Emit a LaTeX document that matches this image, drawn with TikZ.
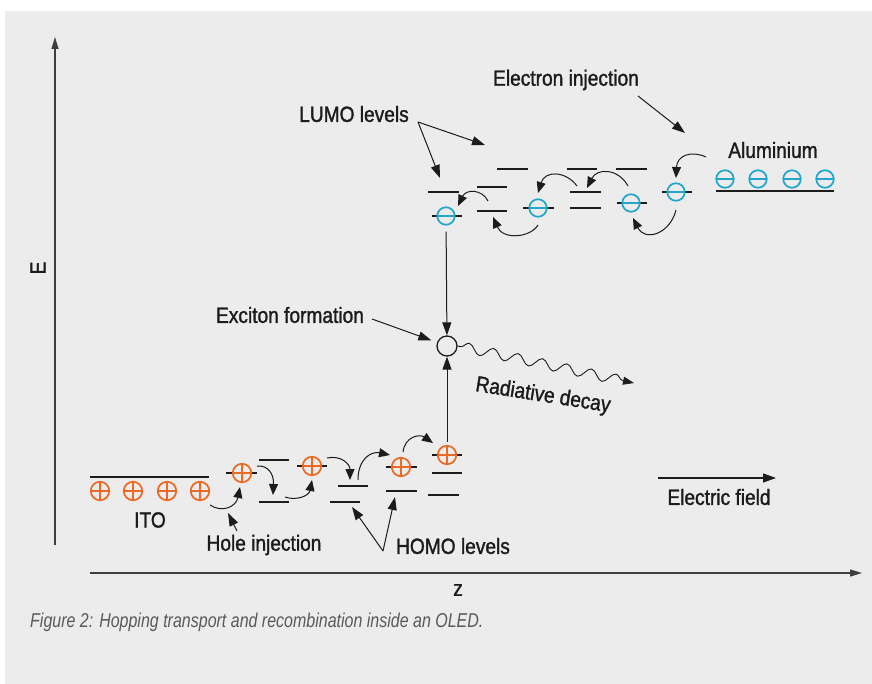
\documentclass[tikz,border=0pt]{standalone}
\usepackage{fontspec}
\setmainfont{Liberation Sans}[FakeStretch=0.87,FakeBold=1.4]
\newfontfamily\capfont{Liberation Sans}[FakeStretch=0.8]
\usetikzlibrary{arrows.meta,decorations.pathmorphing}
\definecolor{bg}{HTML}{EBECEB}
\definecolor{holec}{HTML}{EC6A24}
\definecolor{elc}{HTML}{1FA6CB}
\definecolor{ink}{HTML}{1C1C1C}
\definecolor{capc}{HTML}{5A5A5A}
\begin{document}
\begin{tikzpicture}[x=1pt,y=-1pt,
 lvl/.style={draw=ink,line width=1.8pt},
 hole/.style={circle,draw=holec,line width=1.7pt,fill=bg,minimum size=18.5pt,inner sep=0pt,
   path picture={\draw[holec,line width=1.6pt] (path picture bounding box.west)--(path picture bounding box.east) (path picture bounding box.north)--(path picture bounding box.south);}},
 elec/.style={circle,draw=elc,line width=1.7pt,fill=bg,minimum size=17.5pt,inner sep=0pt,
   path picture={\draw[elc,line width=2.4pt] (path picture bounding box.west)--(path picture bounding box.east);}},
 exciton/.style={circle,draw=ink,line width=1.3pt,minimum size=20pt,inner sep=0pt},
 hop/.style={draw=ink,line width=1pt,-{Triangle[length=11pt,width=9pt]}},
 ptr/.style={draw=ink,line width=1pt,-{Triangle[length=13pt,width=9pt]}},
 axis/.style={draw=ink!85,line width=1.2pt,-{Triangle[length=12pt,width=7pt]}},
 lab/.style={font=\fontsize{22}{25}\selectfont,text=ink,inner sep=0pt}
]
\useasboundingbox (0,0) rectangle (872,684);
\fill[white] (0,0) rectangle (872,684);
\fill[bg] (5,11) rectangle (872,684);

% axes
\coordinate (ebot) at (55,545); \coordinate (etop) at (55,37);
\coordinate (zl) at (90,573); \coordinate (zr) at (862,573);
\draw[axis] (ebot) -- (etop);
\draw[axis] (zl) -- (zr);
\node[lab,rotate=90] (elab) at (38,268) {E};
\node[lab] (zlab) at (458,590) {z};

% caption
\node[anchor=west,inner sep=0pt,text=capc,font=\capfont\itshape\fontsize{20}{23}\selectfont] (cap) at (30,622) {Figure 2: Hopping transport and recombination inside an OLED.};

% ---------- LUMO side ----------
\draw[lvl] (428,192) -- (459,192);
\draw[lvl] (432,216) -- (462,216);
\node[elec] (e1) at (446,216) {};
\draw[lvl] (477,187) -- (507,187);
\draw[lvl] (477,211) -- (507,211);
\draw[lvl] (497,169) -- (528,169);
\draw[lvl] (523,208) -- (554,208);
\node[elec] (e2) at (538,208) {};
\draw[lvl] (567,169) -- (597,169);
\draw[lvl] (570,192) -- (601,192);
\draw[lvl] (570,208) -- (601,208);
\draw[lvl] (616,169) -- (647,169);
\draw[lvl] (617,203) -- (647,203);
\node[elec] (e3) at (631,203) {};
\draw[lvl] (662,192) -- (692,192);
\node[elec] (e4) at (676,192) {};
% aluminium
\draw[lvl] (716,191) -- (834,191);
\node[elec] (a1) at (725,179) {};
\node[elec] (a2) at (758,179) {};
\node[elec] (a3) at (792,179) {};
\node[elec] (a4) at (825,179) {};
\node[lab] (alu) at (773,150) {Aluminium};

% LUMO hops
\coordinate (c1s) at (488,201); \coordinate (c1e) at (458,206);
\draw[hop] (c1s) .. controls (482,189) and (466,189) .. (c1e);
\coordinate (c2s) at (538,225); \coordinate (c2e) at (493,217);
\draw[hop] (c2s) .. controls (530,238) and (503,240) .. (c2e);
\coordinate (c3s) at (577,186); \coordinate (c3e) at (538,193);
\draw[hop] (c3s) .. controls (566,171) and (545,170) .. (c3e);
\coordinate (c4s) at (628,186); \coordinate (c4e) at (587,188);
\draw[hop] (c4s) .. controls (618,168) and (597,168) .. (c4e);
\coordinate (c5s) at (676,210); \coordinate (c5e) at (633,218);
\draw[hop] (c5s) .. controls (670,234) and (645,242) .. (c5e);
\coordinate (c6s) at (706,157); \coordinate (c6e) at (676,178);
\draw[hop] (c6s) .. controls (690,150) and (677,156) .. (c6e);

% LUMO labels
\node[lab] (einj) at (566,80) {Electron injection};
\coordinate (einjs) at (638,96); \coordinate (einje) at (685,133);
\draw[ptr] (einjs) -- (einje);
\node[lab] (lumo) at (354,114) {LUMO levels};
\coordinate (lumov) at (418,122);
\coordinate (lumoa) at (440,178); \coordinate (lumob) at (485,145);
\draw[ptr] (lumov) -- (lumoa);
\draw[ptr] (lumov) -- (lumob);

% ---------- HOMO side ----------
\draw[lvl] (90,477) -- (209,477);
\node[hole] (i1) at (100,491) {};
\node[hole] (i2) at (133,491) {};
\node[hole] (i3) at (167,491) {};
\node[hole] (i4) at (200,491) {};
\node[lab] (ito) at (150,520) {ITO};

\draw[lvl] (226,473) -- (257,473);
\node[hole] (h1) at (242,473) {};
\draw[lvl] (259,460) -- (289,460);
\draw[lvl] (259,502) -- (289,502);
\draw[lvl] (297,466) -- (327,466);
\node[hole] (h2) at (312,466) {};
\draw[lvl] (338,486) -- (368,486);
\draw[lvl] (330,502) -- (360,502);
\draw[lvl] (386,467) -- (417,467);
\node[hole] (h3) at (401,467) {};
\draw[lvl] (386,491) -- (417,491);
\draw[lvl] (432,455) -- (462,455);
\node[hole] (h4) at (447,455) {};
\draw[lvl] (432,473) -- (462,473);
\draw[lvl] (428,495) -- (459,495);

% HOMO hops
\coordinate (g1s) at (210,505); \coordinate (g1e) at (240,487);
\draw[hop] (g1s) .. controls (222,513) and (236,507) .. (g1e);
\coordinate (g2s) at (257,466); \coordinate (g2e) at (273,495);
\draw[hop] (g2s) .. controls (268,465) and (274,474) .. (g2e);
\coordinate (g3s) at (285,497); \coordinate (g3e) at (312,480);
\draw[hop] (g3s) .. controls (296,501) and (309,496) .. (g3e);
\coordinate (g4s) at (327,458); \coordinate (g4e) at (350,480);
\draw[hop] (g4s) .. controls (341,455) and (350,464) .. (g4e);
\coordinate (g5s) at (358,480); \coordinate (g5e) at (390,455);
\draw[hop] (g5s) .. controls (358,459) and (371,451) .. (g5e);
\coordinate (g6s) at (403,452); \coordinate (g6e) at (433,443);
\draw[hop] (g6s) .. controls (405,436) and (420,434) .. (g6e);

% HOMO labels
\node[lab] (hinj) at (264,545) {Hole injection};
\coordinate (hinjs) at (237,531); \coordinate (hinje) at (228,513);
\draw[ptr] (hinjs) -- (hinje);
\node[lab] (homo) at (453,546) {HOMO levels};
\coordinate (homov) at (383,551);
\coordinate (homoa) at (352,507); \coordinate (homob) at (395,497);
\draw[ptr] (homov) -- (homoa);
\draw[ptr] (homov) -- (homob);

% ---------- exciton ----------
\node[exciton] (exc) at (447,346) {};
\draw[ptr,shorten <=6pt] (e1) -- (exc);
\draw[ptr,shorten <=3pt] (h4) -- (exc);
\node[lab] (excl) at (290,315) {Exciton formation};
\coordinate (excs) at (372,319);
\draw[ptr,shorten >=6pt] (excs) -- (exc);
\coordinate (wave) at (634,383);
\draw[draw=ink,line width=0.9pt,decorate,decoration={snake,segment length=25pt,amplitude=5pt,pre length=3pt,post length=10pt},-{Triangle[length=11pt,width=8pt]}] (exc.east) -- (wave);
\node[lab,rotate=-9] (rad) at (543,396) {Radiative decay};

% electric field
\coordinate (efs) at (658,478); \coordinate (efe) at (776,478);
\draw[ptr,line width=1.2pt] (efs) -- (efe);
\node[lab] (efl) at (719,497) {Electric field};
\end{tikzpicture}
\end{document}
